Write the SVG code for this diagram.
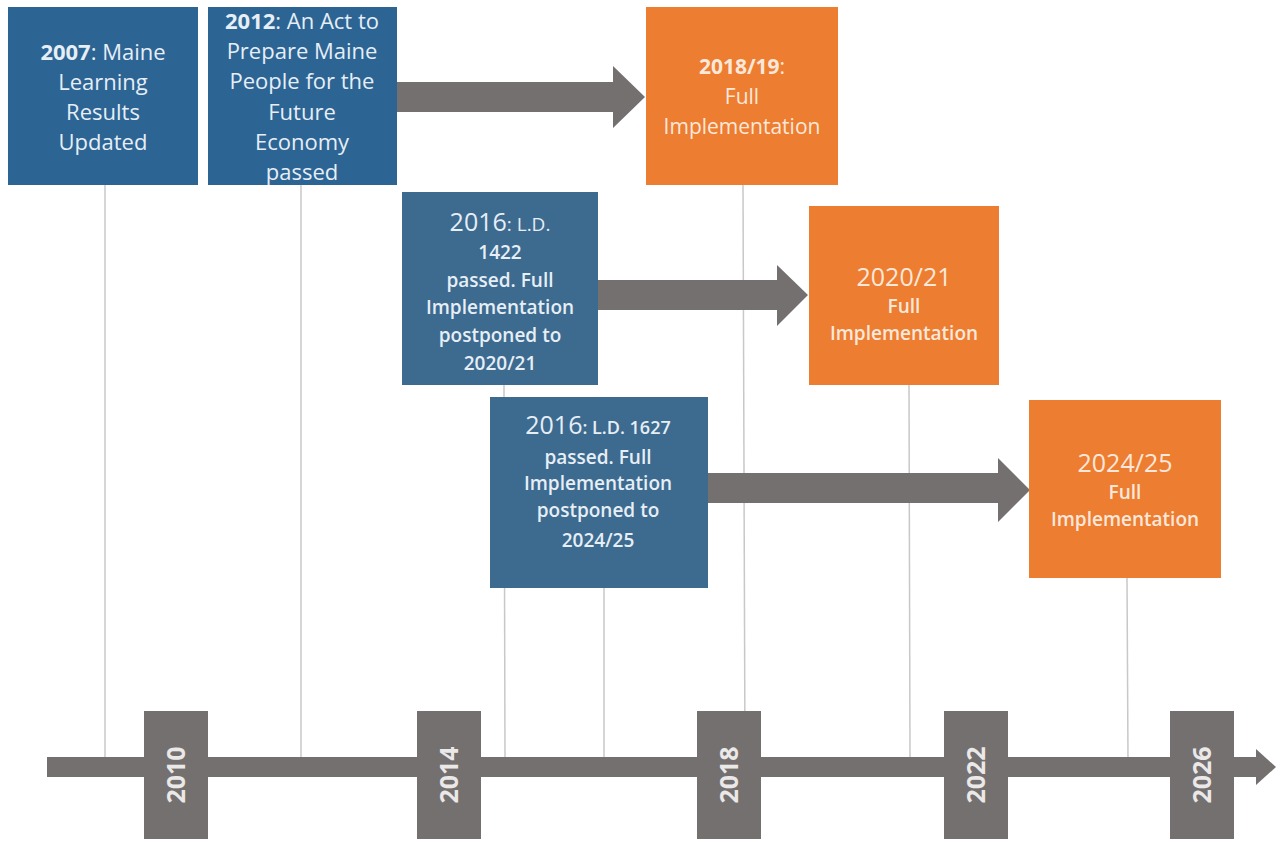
<svg xmlns="http://www.w3.org/2000/svg" width="1277" height="843" viewBox="0 0 1277 843">
<style>
.bg{fill:#ffffff}
.b1{fill:#2c6494}
.b2{fill:#3d6a8f}
.or{fill:#ed7d31}
.ar{fill:#757070}
.vl{stroke:#c8c8c8;stroke-width:1.5;fill:none}
.t{font-family:"Open Sans","Liberation Sans",sans-serif;text-anchor:middle}
.tb{fill:#e6eef6;font-size:22px}
.tc{fill:#e6eef6;font-size:19px;font-weight:600}
.to{fill:#fce8da}
.yr{fill:#ebe8e8;font-size:25px;font-weight:700}
</style>
<rect class="bg" x="0" y="0" width="1277" height="843"/>
<g id="guides">
<line class="vl" x1="105" y1="185" x2="105" y2="760"/>
<line class="vl" x1="301" y1="185" x2="301" y2="760"/>
<line class="vl" x1="504" y1="385" x2="505" y2="760"/>
<line class="vl" x1="604" y1="588" x2="604" y2="760"/>
<line class="vl" x1="743" y1="185" x2="745" y2="760"/>
<line class="vl" x1="909" y1="385" x2="910" y2="760"/>
<line class="vl" x1="1127" y1="578" x2="1128" y2="760"/>
</g>
<g id="connectors">
<polygon class="ar" points="397,82 613,82 613,66 645,97 613,128 613,112 397,112"/>
<polygon class="ar" points="598,280 777,280 777,265 808,295 777,326 777,310 598,310"/>
<polygon class="ar" points="708,473 998,473 998,458 1030,490 998,522 998,503 708,503"/>
</g>
<g id="timeline">
<polygon class="ar" points="47,757 1256,757 1256,749 1276,767 1256,785 1256,777 47,777"/>
</g>
<g id="y2010"><rect class="ar" x="144" y="711" width="64" height="128"/><text class="t yr" transform="translate(185,775) rotate(-90)">2010</text></g>
<g id="y2014"><rect class="ar" x="417" y="711" width="64" height="128"/><text class="t yr" transform="translate(458,775) rotate(-90)">2014</text></g>
<g id="y2018"><rect class="ar" x="697" y="711" width="64" height="128"/><text class="t yr" transform="translate(738,775) rotate(-90)">2018</text></g>
<g id="y2022"><rect class="ar" x="944" y="711" width="64" height="128"/><text class="t yr" transform="translate(985,775) rotate(-90)">2022</text></g>
<g id="y2026"><rect class="ar" x="1170" y="711" width="64" height="128"/><text class="t yr" transform="translate(1211,775) rotate(-90)">2026</text></g>
<g id="n2007">
<rect class="b1" x="8" y="7" width="190" height="178"/>
<text class="t tb" x="103" y="60"><tspan font-weight="700">2007</tspan>: Maine</text>
<text class="t tb" x="103" y="90">Learning</text>
<text class="t tb" x="103" y="120">Results</text>
<text class="t tb" x="103" y="150">Updated</text>
</g>
<g id="n2012">
<rect class="b1" x="208" y="7" width="189" height="178"/>
<text class="t tb" x="302" y="29"><tspan font-weight="700">2012</tspan>: An Act to</text>
<text class="t tb" x="302" y="59">Prepare Maine</text>
<text class="t tb" x="302" y="89">People for the</text>
<text class="t tb" x="302" y="120">Future</text>
<text class="t tb" x="302" y="150">Economy</text>
<text class="t tb" x="302" y="180">passed</text>
</g>
<g id="n2018">
<rect class="or" x="646" y="7" width="192" height="178"/>
<text class="t to" x="742" y="74" font-size="21" font-weight="700">2018/19<tspan font-weight="400">:</tspan></text>
<text class="t to" x="742" y="104" font-size="21">Full</text>
<text class="t to" x="742" y="134" font-size="21">Implementation</text>
</g>
<g id="n1422">
<rect class="b2" x="402" y="192" width="196" height="193"/>
<text class="t tc" x="500" y="231"><tspan font-size="25" font-weight="400">2016</tspan><tspan font-size="19" font-weight="400">: L.D.</tspan></text>
<text class="t tc" x="500" y="259" font-size="17">1422</text>
<text class="t tc" x="500" y="287">passed. Full</text>
<text class="t tc" x="500" y="314">Implementation</text>
<text class="t tc" x="500" y="342">postponed to</text>
<text class="t tc" x="500" y="370">2020/21</text>
</g>
<g id="n1627">
<rect class="b2" x="490" y="397" width="218" height="191"/>
<text class="t tc" x="598" y="434"><tspan font-size="25" font-weight="400">2016</tspan><tspan font-size="18">: L.D. 1627</tspan></text>
<text class="t tc" x="598" y="464">passed. Full</text>
<text class="t tc" x="598" y="490">Implementation</text>
<text class="t tc" x="598" y="517">postponed to</text>
<text class="t tc" x="598" y="547">2024/25</text>
</g>
<g id="n2020">
<rect class="or" x="809" y="206" width="190" height="179"/>
<text class="t to" x="904" y="286" font-size="25">2020/21</text>
<text class="t to" x="904" y="313" font-size="19" font-weight="600">Full</text>
<text class="t to" x="904" y="340" font-size="19" font-weight="600">Implementation</text>
</g>
<g id="n2024">
<rect class="or" x="1029" y="400" width="192" height="178"/>
<text class="t to" x="1125" y="472" font-size="25">2024/25</text>
<text class="t to" x="1125" y="499" font-size="19" font-weight="600">Full</text>
<text class="t to" x="1125" y="526" font-size="19" font-weight="600">Implementation</text>
</g>
</svg>
